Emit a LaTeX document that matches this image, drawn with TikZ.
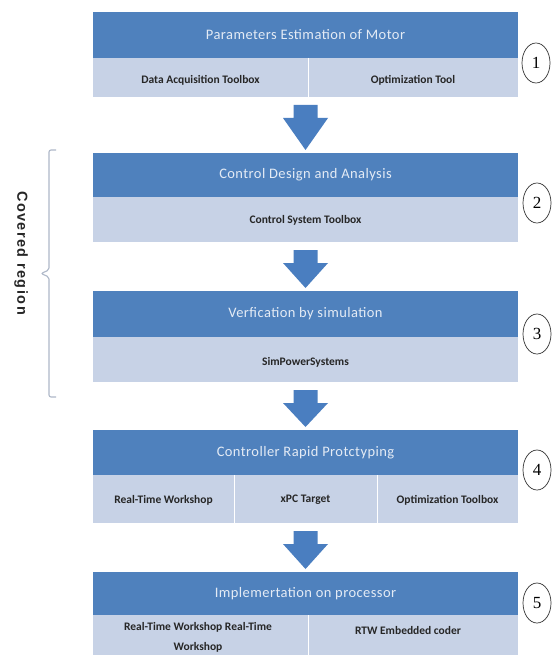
\documentclass[tikz,border=0pt]{standalone}
\usepackage{fontspec}
\setmainfont{Carlito}
\newfontfamily\hdrfont[LetterSpace=3]{Carlito}
\newfontfamily\covfont[LetterSpace=10]{Liberation Sans}
\newfontfamily\numfont{Liberation Serif}
\usetikzlibrary{calc,shapes.geometric}
\definecolor{hdrblue}{HTML}{4F81BD}
\definecolor{subblue}{HTML}{C7D2E6}
\definecolor{hdrtext}{HTML}{E4EBF5}
\definecolor{bracec}{HTML}{AEB8C8}
\definecolor{arrowc}{HTML}{4A7EC0}
\newcommand\flowarrow[2]{%
  \fill[arrowc] let \p1=(#1.south), \p2=(#2.north) in
    (\x1-12pt,\y1-8pt) -- (\x1+12pt,\y1-8pt) -- (\x1+12pt,\y1-21pt) --
    (\x1+22.5pt,\y1-21pt) -- (\x1,\y2+3pt) -- (\x1-22.5pt,\y1-21pt) --
    (\x1-12pt,\y1-21pt) -- cycle;}
\begin{document}
\begin{tikzpicture}[x=1pt,y=-1pt,
  hdr/.style={fill=hdrblue, minimum width=425pt, inner sep=0pt, outer sep=0pt,
    text=hdrtext, font=\hdrfont\fontsize{14.5}{16}\selectfont},
  subrow/.style={fill=subblue, minimum width=425pt, inner sep=0pt, outer sep=0pt},
  cell/.style={font=\bfseries\fontsize{11.5}{13}\selectfont, text=black!85, align=center, inner sep=1pt},
  sepline/.style={white, line width=1pt},
  num/.style={draw=black!80, ellipse, line width=0.7pt, minimum width=28pt, minimum height=40pt,
    inner sep=0pt, font=\numfont\fontsize{17}{18}\selectfont}]
\useasboundingbox (0,0) rectangle (557,655);
\fill[white] (0,0) rectangle (557,655);

% box 1
\node[hdr, minimum height=46pt] (h1) at (305.5,35) {Parameters Estimation of Motor};
\node[subrow, minimum height=39pt] (s1) at (305.5,77.5) {};
\draw[sepline] (308,58) -- (308,97);
\node[cell] (t1a) at (200.5,80) {Data Acquisition Toolbox};
\node[cell] (t1b) at (413,80) {Optimization Tool};
\node[num] (n1) at (536,63) {1};

% box 2
\node[hdr, minimum height=44pt] (h2) at (305.5,175) {Control Design and Analysis};
\node[subrow, minimum height=45pt] (s2) at (305.5,219.5) {};
\node[cell] (t2a) at (305.5,220) {Control System Toolbox};
\node[num] (n2) at (537,203) {2};

% box 3
\node[hdr, minimum height=46pt] (h3) at (305.5,314) {Verfication by simulation};
\node[subrow, minimum height=45pt] (s3) at (305.5,359.5) {};
\node[cell] (t3a) at (305.5,362) {SimPowerSystems};
\node[num] (n3) at (537,334) {3};

% box 4
\node[hdr, minimum height=45pt] (h4) at (305.5,452.5) {Controller Rapid Protctyping};
\node[subrow, minimum height=48pt] (s4) at (305.5,499) {};
\draw[sepline] (234,475) -- (234,523);
\draw[sepline] (377,475) -- (377,523);
\node[cell] (t4a) at (163.5,500) {Real-Time Workshop};
\node[cell] (t4b) at (305.5,500) {xPC Target};
\node[cell] (t4c) at (447.5,500) {Optimization Toolbox};
\node[num] (n4) at (537,470) {4};

% box 5
\node[hdr, minimum height=43pt] (h5) at (305.5,593.5) {Implemertation on processor};
\node[subrow, minimum height=40pt] (s5) at (305.5,635) {};
\draw[sepline] (308,615) -- (308,655);
\node[cell, font=\bfseries\fontsize{11.5}{20}\selectfont] (t5a) at (198,637) {Real-Time Workshop Real-Time\\Workshop};
\node[cell] (t5b) at (408,630) {RTW Embedded coder};
\node[num] (n5) at (537,603) {5};

% arrows
\flowarrow{s1}{h2}
\flowarrow{s2}{h3}
\flowarrow{s3}{h4}
\flowarrow{s4}{h5}

% brace
\draw[bracec, line width=1.1pt, rounded corners=2pt]
  (56,150) -- (49,150) -- (49,270) -- (41,273.5) -- (49,277) -- (49,397) -- (56,397);
\node[rotate=-90, font=\covfont\bfseries\fontsize{14.5}{16}\selectfont, text=black!85] (cov) at (21,253) {Covered region};
\end{tikzpicture}
\end{document}
